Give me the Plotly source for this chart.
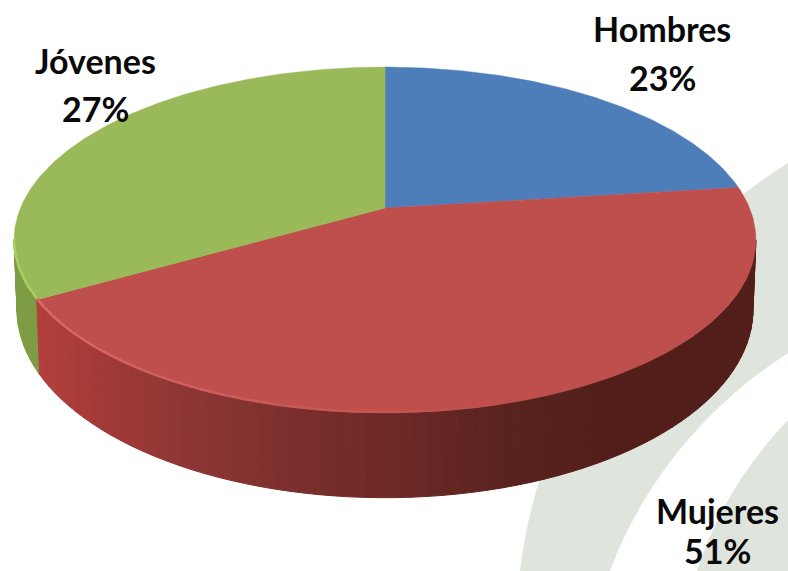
import numpy as np
import plotly.graph_objects as go

# Data
categories = ["Hombres", "Mujeres", "Jóvenes"]
label_percent = [23, 51, 27]          # percentages printed on the labels
drawn_share = [23.0, 43.7, 33.3]      # share of the circle each slice occupies as drawn
top_colors = ["#4D7EBA", "#BE4F4C", "#9AB958"]

label_x = [662, 717, 95]
label_name_y = [28, 510, 60]
label_pct_y = [77, 550, 108]

# Side wall shading, by horizontal position
shade_x = [35, 100, 200, 300, 400, 500, 600, 760]
shade_r = [0xB5, 0xA3, 0x8B, 0x7B, 0x6D, 0x5A, 0x54, 0x52]
shade_g = [0x40, 0x3A, 0x36, 0x2F, 0x2A, 0x23, 0x1F, 0x1E]
shade_b = [0x3D, 0x38, 0x34, 0x2C, 0x27, 0x1F, 0x1B, 0x1A]
green_side = "#7E9C43"

# Perspective of the disc
K = 0.185
CX = 385.0
TOP = dict(a=364.5, b=167.0, cy=208.0)
BOT = dict(a=361.6, b=181.5, cy=275.0)


def project(deg, face):
    t = np.radians(np.asarray(deg, dtype=float))
    ux, uy = np.sin(t), -np.cos(t)
    d = 1 - K * uy
    return CX + face["a"] * ux / d, face["cy"] + face["b"] * uy / d


fig = go.Figure()

# Side wall
edges = np.cumsum([0] + drawn_share) / sum(drawn_share) * 360
LEFT_TAN, RIGHT_TAN = 259.4, 100.6
steps = np.arange(RIGHT_TAN, LEFT_TAN, 2.0)
steps = np.append(steps, LEFT_TAN)
for t0, t1 in zip(steps[:-1], steps[1:]):
    th = np.linspace(t0, t1, 4)
    ux, uy = project(th, TOP)
    lx, ly = project(th[::-1], BOT)
    mid = project((t0 + t1) / 2, BOT)[0]
    if (t0 + t1) / 2 > edges[2]:
        col = green_side
    else:
        col = "rgb(%d,%d,%d)" % (
            np.interp(mid, shade_x, shade_r),
            np.interp(mid, shade_x, shade_g),
            np.interp(mid, shade_x, shade_b),
        )
    fig.add_trace(go.Scatter(
        x=np.r_[ux, lx, ux[0]], y=np.r_[uy, ly, uy[0]], mode="lines",
        fill="toself", fillcolor=col, line=dict(color=col, width=1),
        hoverinfo="skip", showlegend=False))

# Top face
for name, c, t0, t1 in zip(categories, top_colors, edges[:-1], edges[1:]):
    th = np.linspace(t0, t1, 160)
    ax, ay = project(th, TOP)
    fig.add_trace(go.Scatter(
        x=np.r_[CX, ax, CX], y=np.r_[TOP["cy"], ay, TOP["cy"]], mode="lines",
        fill="toself", fillcolor=c, line=dict(color=c, width=0.5),
        name=name, hoverinfo="skip", showlegend=False))

# Bevel highlight along the front rim
rim = np.linspace(edges[2], 165, 28)
for i, (t0, t1) in enumerate(zip(rim[:-1], rim[1:])):
    f = 1 - i / (len(rim) - 2)
    col = "rgb(%d,%d,%d)" % (0xC0 + 0x1C * f, 0x50 + 0x1A * f, 0x4D + 0x1A * f)
    x, y = project(np.linspace(t0, t1, 4), TOP)
    fig.add_trace(go.Scatter(x=x, y=y - 1, mode="lines", line=dict(color=col, width=2.5),
                             hoverinfo="skip", showlegend=False))
gx, gy = project(np.linspace(edges[2], 259.4, 12), TOP)
fig.add_trace(go.Scatter(x=gx, y=gy - 1, mode="lines", line=dict(color="#A9D05F", width=2.5),
                         hoverinfo="skip", showlegend=False))

# Labels
font = dict(family="Lato, Carlito, sans-serif", size=34, color="#0A0A0A")
for name, pct, x, y1, y2 in zip(categories, label_percent, label_x, label_name_y, label_pct_y):
    fig.add_annotation(x=x, y=y1, text=f"<b>{name}</b>", showarrow=False, font=font)
    fig.add_annotation(x=x, y=y2, text=f"<b>{pct}%</b>", showarrow=False, font=font)

# Background swooshes
swoosh = "#DFE5DD"
shapes = [
    dict(type="path", path="M788,163 C650,250 540,400 520,571 L610,571 C640,490 700,410 788,353 Z",
         fillcolor=swoosh, line=dict(width=0), layer="below", xref="x", yref="y"),
    dict(type="path", path="M788,420 C745,465 715,515 697,571 L788,571 Z",
         fillcolor=swoosh, line=dict(width=0), layer="below", xref="x", yref="y"),
]

fig.update_layout(
    width=788, height=571, margin=dict(l=0, r=0, t=0, b=0),
    paper_bgcolor="white", plot_bgcolor="white", shapes=shapes, showlegend=False,
    xaxis=dict(range=[0, 788], visible=False, fixedrange=True),
    yaxis=dict(range=[571, 0], visible=False, fixedrange=True),
)
fig.write_html("out.html", post_script="document.body.style.margin='0';",
               config={"displayModeBar": False})
